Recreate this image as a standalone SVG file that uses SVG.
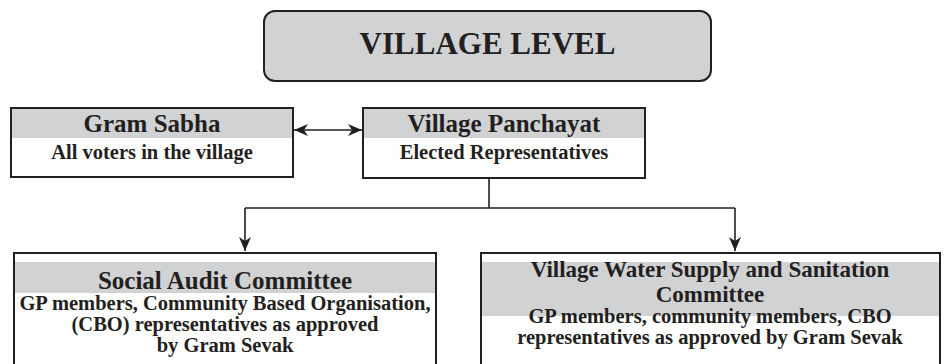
<svg xmlns="http://www.w3.org/2000/svg" width="946" height="364" viewBox="0 0 946 364">
<style>
.box{fill:#ffffff;stroke:#231f20;stroke-width:2}
.band{fill:#d1d2d4}
.t{font-family:"Liberation Serif","Times New Roman",serif;font-weight:bold;fill:#231f20;text-anchor:middle}
.h1{font-size:31px}
.h2{font-size:25px}
.h3{font-size:23px}
.b{font-size:20.5px}
.con{fill:none;stroke:#231f20;stroke-width:1.6}
</style>
<defs>
<marker id="ah" viewBox="0 0 14 12" refX="14" refY="6" markerWidth="14" markerHeight="12" markerUnits="userSpaceOnUse" orient="auto-start-reverse">
<path d="M0,0 L14,6 L0,12 L4,6 z" fill="#231f20"/>
</marker>
</defs>
<g id="village-level">
<rect x="264" y="11" width="447" height="70" rx="11" ry="11" fill="#d1d2d4" stroke="#231f20" stroke-width="2"/>
<text class="t h1" x="487.5" y="54">VILLAGE LEVEL</text>
</g>
<g id="gram-sabha">
<rect class="box" x="11" y="108" width="282" height="69"/>
<rect class="band" x="12" y="109" width="280" height="29"/>
<text class="t h2" x="152" y="132">Gram Sabha</text>
<text class="t b" x="152" y="159">All voters in the village</text>
</g>
<g id="village-panchayat">
<rect class="box" x="363" y="108" width="282" height="70"/>
<rect class="band" x="364" y="109" width="280" height="29"/>
<text class="t h2" x="504" y="132">Village Panchayat</text>
<text class="t b" x="504" y="159">Elected Representatives</text>
</g>
<g id="social-audit-committee">
<rect class="box" x="14" y="253" width="422" height="120"/>
<rect class="band" x="15" y="262" width="420" height="31"/>
<text class="t h2" x="225" y="289">Social Audit Committee</text>
<text class="t b" x="225" y="310">GP members, Community Based Organisation,</text>
<text class="t b" x="225" y="331">(CBO) representatives as approved</text>
<text class="t b" x="225" y="352">by Gram Sevak</text>
</g>
<g id="vwsc">
<rect class="box" x="481" y="253" width="459" height="120"/>
<rect class="band" x="482" y="262" width="457" height="54"/>
<text class="t h3" x="710" y="277">Village Water Supply and Sanitation</text>
<text class="t h3" x="710" y="302">Committee</text>
<text class="t b" x="710" y="323">GP members, community members, CBO</text>
<text class="t b" x="710" y="344">representatives as approved by Gram Sevak</text>
</g>
<g id="connectors">
<line class="con" x1="294" y1="130" x2="362" y2="130" marker-start="url(#ah)" marker-end="url(#ah)"/>
<polyline class="con" points="489,178 489,208"/>
<line class="con" x1="245" y1="208" x2="735" y2="208"/>
<line class="con" x1="245" y1="208" x2="245" y2="251" marker-end="url(#ah)"/>
<line class="con" x1="735" y1="208" x2="735" y2="251" marker-end="url(#ah)"/>
</g>
</svg>
